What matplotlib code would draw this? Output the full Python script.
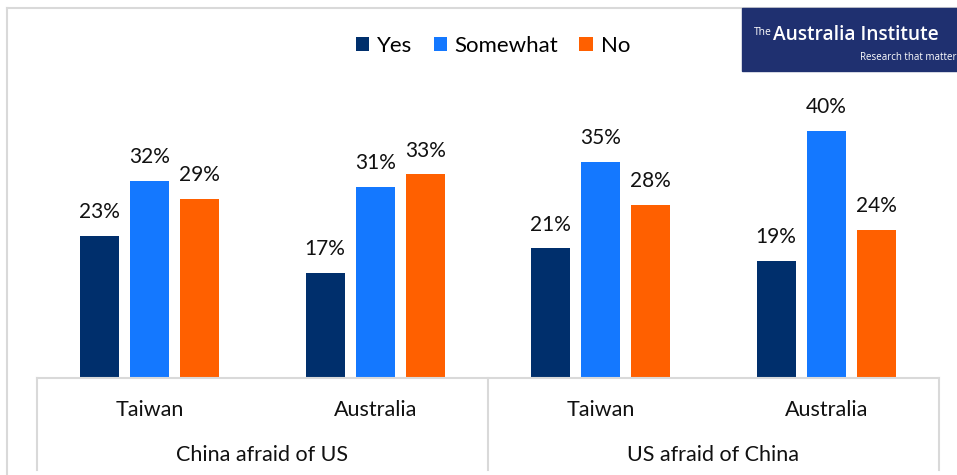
import matplotlib.pyplot as plt
from matplotlib.patches import Rectangle
from matplotlib.lines import Line2D
import numpy as np

plt.rcParams['font.family'] = ['Lato', 'DejaVu Sans']

groups = ["China afraid of US", "US afraid of China"]
countries = ["Taiwan", "Australia", "Taiwan", "Australia"]
yes = [23, 17, 21, 19]
somewhat = [32, 31, 35, 40]
no = [29, 33, 28, 24]
series_names = ["Yes", "Somewhat", "No"]
colors = ["#002F6C", "#1478FF", "#FF6000"]
grid_grey = "#D9D9D9"
text_col = "#111111"

W, H = 957, 475
fig = plt.figure(figsize=(W / 100, H / 100), dpi=100)

# plot area in pixel terms
left, right, base, top = 37, 939, 378, 8
ax = fig.add_axes([left / W, 1 - base / H, (right - left) / W, (base - top) / H])

x = np.arange(len(countries))
width = 0.173
step = 0.222
for i, (vals, c) in enumerate(zip([yes, somewhat, no], colors)):
    pos = x + (i - 1) * step
    ax.bar(pos, vals, width, color=c, label=series_names[i])
    for p, v in zip(pos, vals):
        ax.annotate(f"{v}%", (p, v), xytext=(0, 10), textcoords="offset points",
                    ha="center", va="bottom", fontsize=15, color=text_col)

ax.set_xlim(-0.5, 3.5)
ax.set_ylim(0, (base - top) / 6.17)
ax.axis("off")

# category axis boxes
tr = ax.get_xaxis_transform()
bottom_y = -(470 - base) / (base - top)
ax.plot([-0.5, 3.5], [0, 0], color=grid_grey, lw=1.5, transform=tr, clip_on=False)
for xv in [-0.5, 1.5, 3.5]:
    ax.plot([xv, xv], [0, bottom_y], color=grid_grey, lw=1.5, transform=tr, clip_on=False)

lab_y = -(410 - base) / (base - top)
grp_y = -(455 - base) / (base - top)
for xi, name in zip(x, countries):
    ax.text(xi, lab_y, name, transform=tr, ha="center", va="center", fontsize=15.5, color=text_col)
for gi, name in enumerate(groups):
    ax.text(gi * 2 + 0.5, grp_y, name, transform=tr, ha="center", va="center", fontsize=15.5, color=text_col)

# outer chart border
fig.add_artist(Line2D([7 / W, 1], [1 - 8 / H, 1 - 8 / H], color=grid_grey, lw=1.5))
fig.add_artist(Line2D([7 / W, 7 / W], [0, 1 - 8 / H], color=grid_grey, lw=1.5))

fig.legend(loc="center", bbox_to_anchor=(493 / W, 1 - 46 / H), ncol=3, frameon=False,
           fontsize=16, handlelength=0.6, handleheight=0.6, handletextpad=0.35,
           columnspacing=0.95)

# logo
fig.add_artist(Rectangle((742 / W, 1 - 71 / H), (W - 742) / W, 63 / H,
                         transform=fig.transFigure, color="#1F3070", zorder=5))
fig.text(754 / W, 1 - 38 / H, "The", color="white", fontsize=7.5, va="bottom", ha="left",
         family=["Open Sans", "DejaVu Sans"], zorder=6)
fig.text(773 / W, 1 - 35 / H, "Australia Institute", color="white", fontsize=13.8,
         va="center", ha="left", weight="semibold", family=["Open Sans", "DejaVu Sans"], zorder=6)
fig.text(961 / W, 1 - 58 / H, "Research that matters", color="white", fontsize=7,
         va="center", ha="right", family=["Open Sans", "DejaVu Sans"], zorder=6)

fig.savefig("out.png", dpi=100)
